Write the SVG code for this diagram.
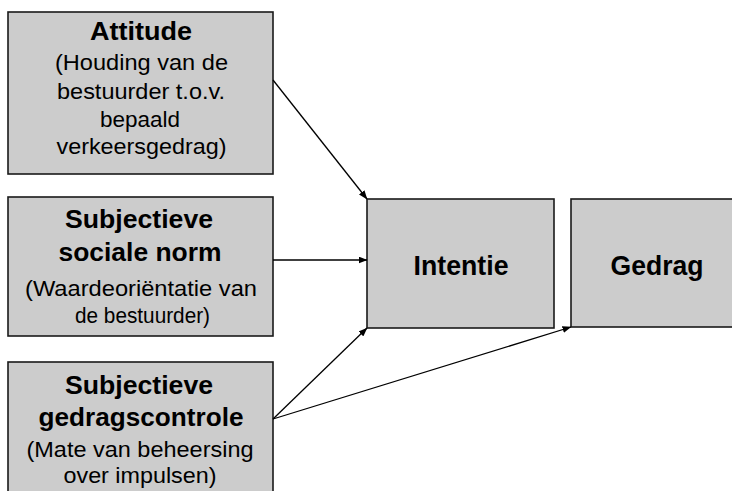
<svg xmlns="http://www.w3.org/2000/svg" width="732" height="491" viewBox="0 0 732 491">
  <style>
    .box { fill: #cccccc; stroke: #1a1a1a; stroke-width: 1.6; }
    .t { font-family: "Liberation Sans", Arial, sans-serif; fill: #000; text-anchor: middle; }
    .b { font-weight: bold; font-size: 26px; }
    .r { font-size: 22px; }
    .big { font-weight: bold; font-size: 27px; }
    .conn { stroke: #000; stroke-width: 1.3; fill: none; marker-end: url(#arrow); }
  </style>
  <defs>
    <marker id="arrow" markerUnits="userSpaceOnUse" markerWidth="9" markerHeight="7" refX="8.5" refY="3.5" orient="auto">
      <path d="M0,0 L9,3.5 L0,7 z" fill="#000"/>
    </marker>
  </defs>
  <rect width="732" height="491" fill="#ffffff"/>

  <g id="attitude">
    <rect class="box" x="8" y="12" width="265" height="162"/>
    <text class="t b" x="141" y="40" textLength="102" lengthAdjust="spacingAndGlyphs">Attitude</text>
    <text class="t r" x="141.5" y="70" textLength="173" lengthAdjust="spacingAndGlyphs">(Houding van de</text>
    <text class="t r" x="141" y="99" textLength="168" lengthAdjust="spacingAndGlyphs">bestuurder t.o.v.</text>
    <text class="t r" x="140" y="127" textLength="80" lengthAdjust="spacingAndGlyphs">bepaald</text>
    <text class="t r" x="141.5" y="154" textLength="170" lengthAdjust="spacingAndGlyphs">verkeersgedrag)</text>
  </g>

  <g id="norm">
    <rect class="box" x="8" y="197" width="265" height="139"/>
    <text class="t b" x="139" y="228" textLength="148" lengthAdjust="spacingAndGlyphs">Subjectieve</text>
    <text class="t b" x="140" y="261" textLength="163" lengthAdjust="spacingAndGlyphs">sociale norm</text>
    <text class="t r" x="141" y="296" textLength="232" lengthAdjust="spacingAndGlyphs">(Waardeoriëntatie van</text>
    <text class="t r" x="142.5" y="323" textLength="135" lengthAdjust="spacingAndGlyphs">de bestuurder)</text>
  </g>

  <g id="controle">
    <rect class="box" x="8" y="362" width="265" height="140"/>
    <text class="t b" x="139" y="394" textLength="148" lengthAdjust="spacingAndGlyphs">Subjectieve</text>
    <text class="t b" x="141" y="426" textLength="205" lengthAdjust="spacingAndGlyphs">gedragscontrole</text>
    <text class="t r" x="140" y="457" textLength="227" lengthAdjust="spacingAndGlyphs">(Mate van beheersing</text>
    <text class="t r" x="140" y="483" textLength="153" lengthAdjust="spacingAndGlyphs">over impulsen)</text>
  </g>

  <g id="intentie">
    <rect class="box" x="367" y="199" width="187" height="129"/>
    <text class="t big" x="461" y="275" textLength="95" lengthAdjust="spacingAndGlyphs">Intentie</text>
  </g>

  <g id="gedrag">
    <rect class="box" x="571" y="199" width="175" height="128"/>
    <text class="t big" x="657" y="275" textLength="93" lengthAdjust="spacingAndGlyphs">Gedrag</text>
  </g>

  <g id="connectors">
    <line class="conn" x1="273" y1="80" x2="367" y2="199"/>
    <line class="conn" x1="273" y1="260" x2="367" y2="260"/>
    <line class="conn" x1="273" y1="419" x2="367" y2="328"/>
    <line class="conn" x1="273" y1="419" x2="571" y2="327"/>
  </g>
</svg>
